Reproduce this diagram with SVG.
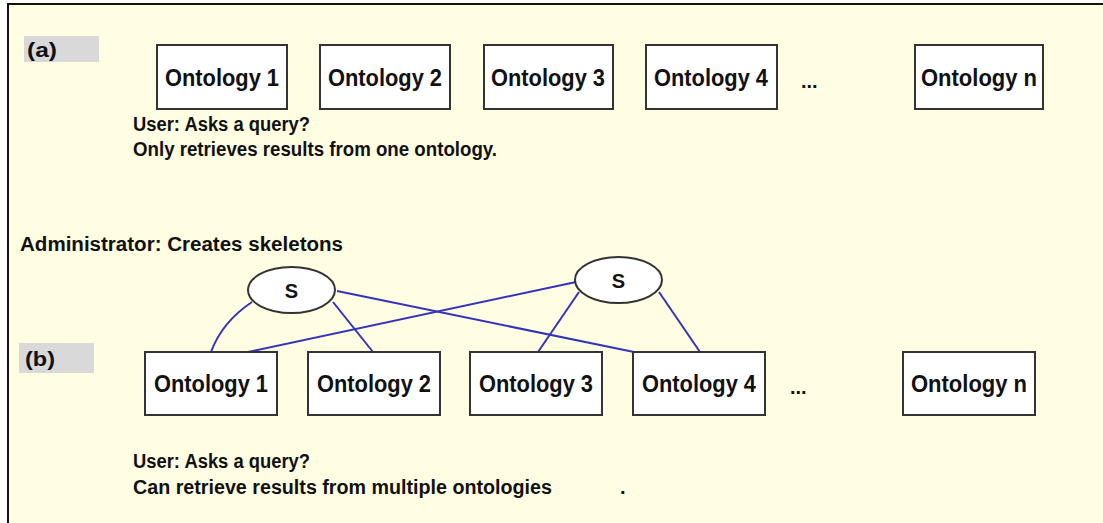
<svg xmlns="http://www.w3.org/2000/svg" width="1103" height="523" viewBox="0 0 1103 523">
<style>
text{font-family:"Liberation Sans",Arial,sans-serif;font-weight:bold;fill:#111}
.box{fill:#fff;stroke:#333;stroke-width:2}
.lbl{font-size:23px;text-anchor:middle}
.t{font-size:20px}
.tag{fill:#d9d9d9}
.ell{fill:#fff;stroke:#333;stroke-width:2}
.conn{fill:none;stroke:#3333bb;stroke-width:2}
</style>
<rect width="1103" height="523" fill="#fff"/>
<rect x="8" y="4" width="1095" height="519" fill="#fffde2"/>
<line x1="7" y1="4" x2="1103" y2="4" stroke="#111" stroke-width="2"/>
<line x1="8" y1="3" x2="8" y2="523" stroke="#111" stroke-width="2"/>
<g id="tag-a"><rect class="tag" x="24" y="36" width="75" height="26"/><text class="t" x="27" y="57" textLength="30" lengthAdjust="spacingAndGlyphs">(a)</text></g>
<g id="a-o1"><rect class="box" x="157" y="45" width="130" height="64"/><text class="lbl" x="222" y="86" textLength="114" lengthAdjust="spacingAndGlyphs">Ontology 1</text></g>
<g id="a-o2"><rect class="box" x="320" y="45" width="130" height="64"/><text class="lbl" x="385" y="86" textLength="114" lengthAdjust="spacingAndGlyphs">Ontology 2</text></g>
<g id="a-o3"><rect class="box" x="484" y="45" width="129" height="64"/><text class="lbl" x="548" y="86" textLength="114" lengthAdjust="spacingAndGlyphs">Ontology 3</text></g>
<g id="a-o4"><rect class="box" x="646" y="45" width="131" height="64"/><text class="lbl" x="711" y="86" textLength="114" lengthAdjust="spacingAndGlyphs">Ontology 4</text></g>
<text class="t" x="801" y="88">...</text>
<g id="a-on"><rect class="box" x="915" y="45" width="128" height="64"/><text class="lbl" x="979" y="86" textLength="116" lengthAdjust="spacingAndGlyphs">Ontology  n</text></g>
<text class="t" x="133" y="131" textLength="177" lengthAdjust="spacingAndGlyphs">User: Asks a query?</text>
<text class="t" x="133" y="156" textLength="364" lengthAdjust="spacingAndGlyphs">Only retrieves results from one ontology.</text>
<text class="t" x="20" y="251" textLength="323" lengthAdjust="spacingAndGlyphs">Administrator: Creates skeletons</text>
<g id="connectors">
<path class="conn" d="M252,302 Q222,322 211,352"/>
<line class="conn" x1="333" y1="302" x2="373" y2="352"/>
<line class="conn" x1="337" y1="291" x2="634" y2="352"/>
<line class="conn" x1="576" y1="282" x2="248" y2="352"/>
<line class="conn" x1="579" y1="292" x2="538" y2="352"/>
<line class="conn" x1="659" y1="292" x2="700" y2="352"/>
</g>
<g id="s1"><ellipse class="ell" cx="291.5" cy="290" rx="43.5" ry="23"/><text class="t" x="291.5" y="298" text-anchor="middle">S</text></g>
<g id="s2"><ellipse class="ell" cx="618.5" cy="280" rx="43.5" ry="23"/><text class="t" x="618.5" y="288" text-anchor="middle">S</text></g>
<g id="tag-b"><rect class="tag" x="19" y="343" width="75" height="30"/><text class="t" x="25" y="366" textLength="30" lengthAdjust="spacingAndGlyphs">(b)</text></g>
<g id="b-o1"><rect class="box" x="145" y="352" width="132" height="63"/><text class="lbl" x="211" y="392" textLength="114" lengthAdjust="spacingAndGlyphs">Ontology 1</text></g>
<g id="b-o2"><rect class="box" x="308" y="352" width="132" height="63"/><text class="lbl" x="374" y="392" textLength="114" lengthAdjust="spacingAndGlyphs">Ontology 2</text></g>
<g id="b-o3"><rect class="box" x="470" y="352" width="132" height="63"/><text class="lbl" x="536" y="392" textLength="114" lengthAdjust="spacingAndGlyphs">Ontology 3</text></g>
<g id="b-o4"><rect class="box" x="633" y="352" width="132" height="63"/><text class="lbl" x="699" y="392" textLength="114" lengthAdjust="spacingAndGlyphs">Ontology 4</text></g>
<text class="t" x="790" y="394">...</text>
<g id="b-on"><rect class="box" x="903" y="352" width="132" height="63"/><text class="lbl" x="969" y="392" textLength="116" lengthAdjust="spacingAndGlyphs">Ontology  n</text></g>
<text class="t" x="133" y="468" textLength="177" lengthAdjust="spacingAndGlyphs">User: Asks a query?</text>
<text class="t" x="133" y="494" textLength="419" lengthAdjust="spacingAndGlyphs">Can retrieve results from multiple ontologies</text>
<text class="t" x="620" y="494">.</text>
</svg>
